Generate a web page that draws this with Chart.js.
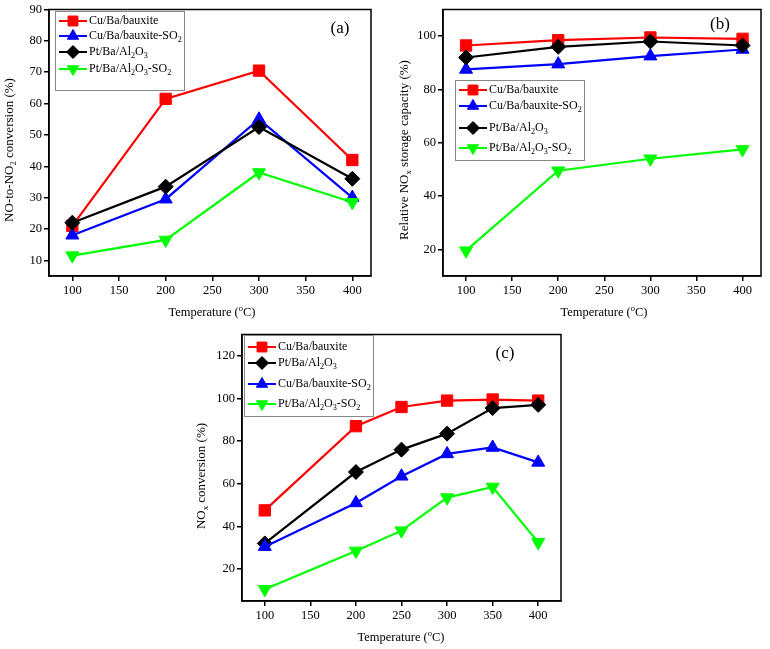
<!DOCTYPE html>
<html>
<head>
<meta charset="utf-8">
<script src="https://cdn.jsdelivr.net/npm/chart.js@4.4.0/dist/chart.umd.min.js"></script>
<style>
  body { margin: 0; background: #fff; width: 770px; height: 649px; position: relative; overflow: hidden; }
  canvas { position: absolute; }
</style>
</head>
<body>
<canvas id="chartA" width="385" height="325" style="left:0;top:0"></canvas>
<canvas id="chartB" width="385" height="325" style="left:385px;top:0"></canvas>
<canvas id="chartC" width="400" height="324" style="left:190px;top:325px"></canvas>
<script>
// temperatures (°C)
const tempAB = [100, 200, 300, 400];
const tempC = [100, 200, 250, 300, 350, 400];

// tick labels
const xTicks = [100, 150, 200, 250, 300, 350, 400];
const yTicksA = [10, 20, 30, 40, 50, 60, 70, 80, 90];
const yTicksB = [20, 40, 60, 80, 100];
const yTicksC = [20, 40, 60, 80, 100, 120];

// (a) NO-to-NO2 conversion (%)
const convCu = [21, 61.5, 70.5, 42];
const convCuSO2 = [18, 29.5, 55, 30];
const convPt = [22, 33.5, 52.5, 36];
const convPtSO2 = [11.5, 16.5, 38, 28.5];

// (b) relative NOx storage capacity (%)
const storCu = [96.5, 98.5, 99.5, 99];
const storCuSO2 = [87.5, 89.5, 92.5, 95];
const storPt = [92, 96, 98, 96.5];
const storPtSO2 = [19.5, 49.5, 54, 57.5];

// (c) NOx conversion (%)
const noxCu = [47.5, 87, 96, 99, 99.5, 99];
const noxPt = [32, 65.5, 76, 83.5, 95.5, 97];
const noxCuSO2 = [30.5, 51, 63.5, 74, 77, 70];
const noxPtSO2 = [10.5, 28.5, 38, 53.5, 58.5, 32.5];

const names = {
  cu: 'Cu/Ba/bauxite',
  cuSO2: 'Cu/Ba/bauxite-SO_2',
  pt: 'Pt/Ba/Al_2O_3',
  ptSO2: 'Pt/Ba/Al_2O_3-SO_2'
};

const styles = {
  cu:    { color: '#ff0000', point: 'rect',     radius: 8,   rot: 0 },
  cuSO2: { color: '#0000ff', point: 'triangle', radius: 7.5, rot: 0 },
  pt:    { color: '#000000', point: 'rectRot',  radius: 7.5, rot: 0 },
  ptSO2: { color: '#00ff00', point: 'triangle', radius: 7.5, rot: 180 }
};

const FONT = '"Liberation Serif", "Times New Roman", serif';

// simple rich text: _x = subscript, ^x = superscript (one char)
function parseRich(str) {
  const parts = [];
  for (let i = 0; i < str.length; i++) {
    const c = str[i];
    if ((c === '_' || c === '^') && i + 1 < str.length) {
      parts.push({ t: str[i + 1], k: c });
      i++;
    } else if (parts.length && !parts[parts.length - 1].k) {
      parts[parts.length - 1].t += c;
    } else {
      parts.push({ t: c, k: null });
    }
  }
  return parts;
}

function drawRich(ctx, str, x, y, size, align) {
  const parts = parseRich(str);
  const small = size * 0.68;
  let w = 0;
  parts.forEach(p => {
    ctx.font = (p.k ? small : size) + 'px ' + FONT;
    p.w = ctx.measureText(p.t).width;
    w += p.w;
  });
  let cx = align === 'center' ? x - w / 2 : x;
  ctx.textAlign = 'left';
  ctx.textBaseline = 'middle';
  ctx.fillStyle = '#000';
  parts.forEach(p => {
    ctx.font = (p.k ? small : size) + 'px ' + FONT;
    const dy = p.k === '_' ? size * 0.32 : p.k === '^' ? -size * 0.3 : 0;
    ctx.fillText(p.t, cx, y + dy);
    cx += p.w;
  });
}

// box round the plot, axis titles, panel letter, legend
const decor = {
  id: 'decor',
  afterDatasetsDraw(chart, args, o) {
    const ctx = chart.ctx;
    const a = chart.chartArea;
    ctx.save();
    ctx.strokeStyle = '#000';
    ctx.lineWidth = 1.5;
    ctx.strokeRect(a.left, a.top, a.right - a.left, a.bottom - a.top);

    drawRich(ctx, 'Temperature (^oC)', o.xTitle[0], o.xTitle[1], 12.5, 'center');
    ctx.save();
    ctx.translate(o.yTitle[0], o.yTitle[1]);
    ctx.rotate(-Math.PI / 2);
    drawRich(ctx, o.yText, 0, 0, 13, 'center');
    ctx.restore();
    drawRich(ctx, o.panel, o.panelPos[0], o.panelPos[1], 17, 'center');

    const L = o.legend;
    ctx.fillStyle = '#fff';
    ctx.fillRect(L.x, L.y, L.w, L.h);
    ctx.strokeStyle = '#888';
    ctx.lineWidth = 1;
    ctx.strokeRect(L.x + 0.5, L.y + 0.5, L.w, L.h);
    L.rows.forEach(r => {
      const s = styles[r.key];
      ctx.strokeStyle = s.color;
      ctx.fillStyle = s.color;
      ctx.lineWidth = 2;
      ctx.beginPath();
      ctx.moveTo(L.x + 4, r.y);
      ctx.lineTo(L.x + 32, r.y);
      ctx.stroke();
      ctx.lineWidth = 1;
      Chart.helpers.drawPoint(ctx, { pointStyle: s.point, radius: s.radius - 1, rotation: s.rot, borderWidth: 1 }, L.x + 18, r.y);
      drawRich(ctx, names[r.key], L.x + 34, r.y, 12, 'left');
    });
    ctx.restore();
  }
};

function series(key, xs, ys, i) {
  const s = styles[key];
  return {
    label: names[key],
    data: xs.map((x, j) => ({ x: x, y: ys[j] })),
    borderColor: s.color,
    backgroundColor: s.color,
    borderWidth: 2.2,
    pointStyle: s.point,
    pointRadius: s.radius,
    pointRotation: s.rot,
    pointBorderWidth: 1,
    pointBorderColor: s.color,
    order: -i
  };
}

function axis(min, max, ticks, fitSize, horizontal) {
  return {
    type: 'linear',
    min: min,
    max: max,
    afterBuildTicks: sc => { sc.ticks = ticks.map(v => ({ value: v })); },
    afterFit: sc => { if (horizontal) sc.height = fitSize; else sc.width = fitSize; },
    grid: { drawOnChartArea: false, drawTicks: true, tickLength: 5, color: '#000', lineWidth: 1.5 },
    border: { display: true, color: '#000', width: 1.5 },
    ticks: { color: '#000', padding: 2, maxRotation: 0, font: { family: FONT, size: 12.5 } }
  };
}

function makeChart(id, p) {
  new Chart(document.getElementById(id), {
    type: 'line',
    data: { datasets: p.datasets },
    options: {
      responsive: false,
      animation: false,
      layout: { padding: { top: p.area.top, right: p.area.right, left: 0, bottom: 0 } },
      scales: {
        x: axis(p.x[0], p.x[1], xTicks, p.area.bottom, true),
        y: axis(p.y[0], p.y[1], p.yTicks, p.area.left, false)
      },
      plugins: { legend: { display: false }, tooltip: { enabled: false }, decor: p.decor }
    },
    plugins: [decor]
  });
}

makeChart('chartA', {
  datasets: [
    series('cu', tempAB, convCu, 0),
    series('cuSO2', tempAB, convCuSO2, 1),
    series('pt', tempAB, convPt, 2),
    series('ptSO2', tempAB, convPtSO2, 3)
  ],
  x: [75, 420], y: [5, 90], yTicks: yTicksA,
  area: { left: 49, top: 7, right: 14, bottom: 49 },
  decor: {
    xTitle: [212, 313], yTitle: [10, 150], yText: 'NO-to-NO_2 conversion (%)',
    panel: '(a)', panelPos: [340, 29],
    legend: { x: 55, y: 11, w: 129, h: 79, rows: [
      { key: 'cu', y: 21 }, { key: 'cuSO2', y: 36 }, { key: 'pt', y: 52 }, { key: 'ptSO2', y: 69 }
    ] }
  }
});

makeChart('chartB', {
  datasets: [
    series('cu', tempAB, storCu, 0),
    series('cuSO2', tempAB, storCuSO2, 1),
    series('pt', tempAB, storPt, 2),
    series('ptSO2', tempAB, storPtSO2, 3)
  ],
  x: [75, 420], y: [10, 110], yTicks: yTicksB,
  area: { left: 58, top: 7, right: 5, bottom: 49 },
  decor: {
    xTitle: [219, 313], yTitle: [20, 150], yText: 'Relative NO_x storage capacity (%)',
    panel: '(b)', panelPos: [335, 25],
    legend: { x: 70, y: 80, w: 129, h: 80, rows: [
      { key: 'cu', y: 90 }, { key: 'cuSO2', y: 106 }, { key: 'pt', y: 128 }, { key: 'ptSO2', y: 148 }
    ] }
  }
});

makeChart('chartC', {
  datasets: [
    series('cu', tempC, noxCu, 0),
    series('pt', tempC, noxPt, 1),
    series('cuSO2', tempC, noxCuSO2, 2),
    series('ptSO2', tempC, noxPtSO2, 3)
  ],
  x: [75, 425], y: [5, 130], yTicks: yTicksC,
  area: { left: 52, top: 7, right: 29, bottom: 48 },
  decor: {
    xTitle: [211, 313], yTitle: [12, 151], yText: 'NO_x conversion (%)',
    panel: '(c)', panelPos: [315, 29],
    legend: { x: 54, y: 10, w: 129, h: 81, rows: [
      { key: 'cu', y: 22 }, { key: 'pt', y: 38 }, { key: 'cuSO2', y: 59 }, { key: 'ptSO2', y: 79 }
    ] }
  }
});
</script>
</body>
</html>
